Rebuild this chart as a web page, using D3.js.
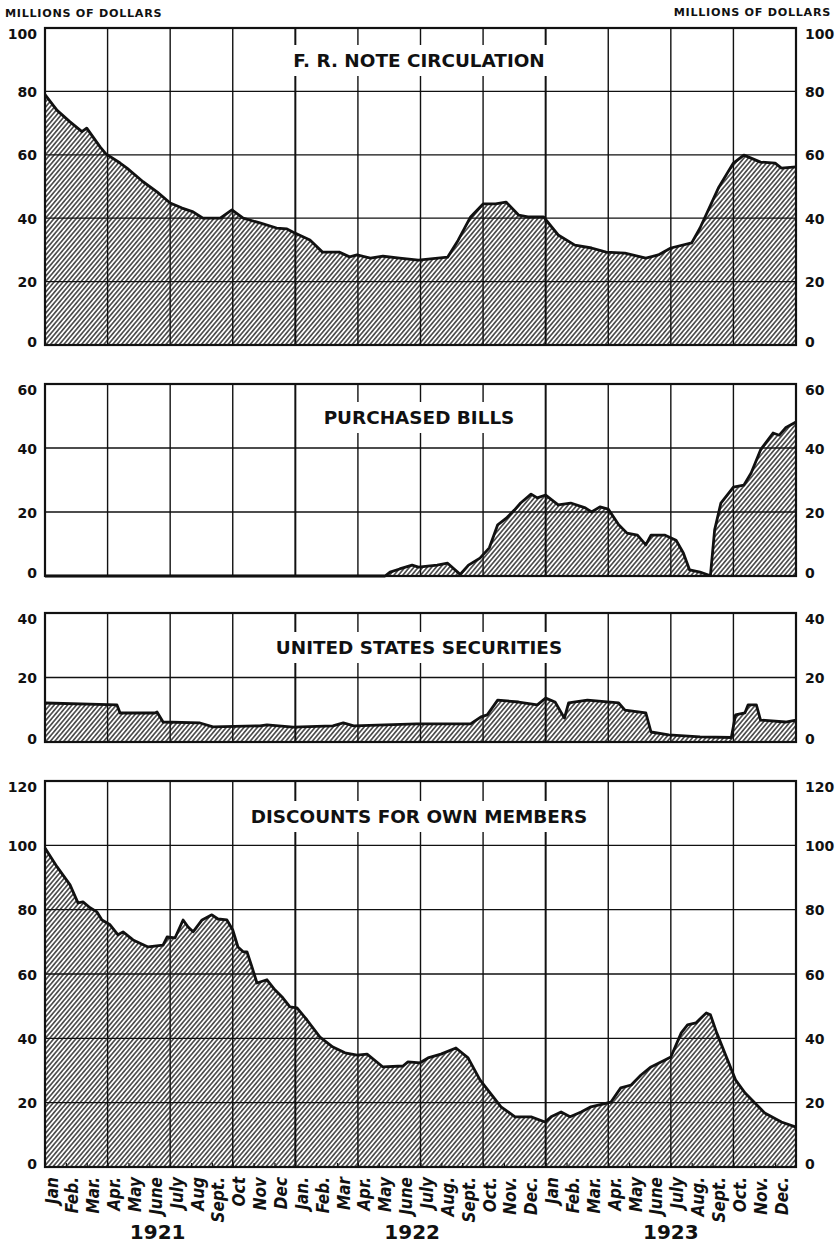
<!DOCTYPE html>
<meta charset="utf-8">
<head>
<style>
  body { margin: 0; background: #fff; }
  text { font-family: "DejaVu Sans", sans-serif; fill: #111; }
  .tick-label { font-size: 14px; font-weight: bold; }
  .title { font-size: 18.4px; font-weight: bold; }
  .unit { font-size: 11.2px; font-weight: bold; letter-spacing: 0.7px; }
  .month { font-family: "DejaVu Sans Condensed", "DejaVu Sans", sans-serif; font-size: 17px; font-style: italic; font-weight: bold; }
  .year { font-size: 20px; font-weight: bold; }
</style>
</head>
<body>
<script src="https://cdnjs.cloudflare.com/ajax/libs/d3/7.8.5/d3.min.js"></script>
<script>

// months counted from Jan 1921 (0) to end of Dec 1923 (36), values in millions of dollars
const noteCirculation = [
  [0,79],[0.58,74],[1.2,70.4],[1.77,67.3],[2.0,68.4],[2.64,62.5],[2.92,60.3],[3.6,57.4],[3.93,55.8],
  [4.7,51.5],[5.37,48.3],[6.0,44.8],[6.57,43.2],[7.1,42],[7.57,40],[8.4,40],[8.96,42.6],[9.5,40],
  [10.3,38.5],[11.1,36.9],[11.6,36.6],[11.9,35.6],[12.7,33.1],[13.3,29.3],[14.1,29.3],[14.6,27.8],
  [14.96,28.4],[15.6,27.4],[16.2,28],[17.0,27.4],[17.9,26.8],[19.3,27.7],[19.8,33],[20.4,40.4],
  [21.0,44.5],[21.6,44.5],[22.1,45.1],[22.7,41],[23.15,40.4],[23.9,40.4],[24.6,34.7],[25.4,31.5],
  [26.2,30.6],[26.9,29.3],[27.8,29],[28.8,27.4],[29.4,28.4],[30.0,30.6],[31.0,32.2],[31.4,36.9],
  [32.3,49.8],[33.0,57.4],[33.5,59.9],[34.3,57.7],[35.0,57.4],[35.3,55.8],[36,56.2]
];

const purchasedBills = [
  [0,0],[16.3,0],[16.54,1.2],[17.0,2.2],[17.6,3.4],[17.9,2.8],[18.8,3.4],[19.3,4],[19.9,0.5],
  [20.3,3.4],[20.85,5.6],[21.3,8.8],[21.7,16],[22.1,18],[22.5,20.6],[22.8,22.8],[23.3,25.6],
  [23.6,24.4],[24.0,25.3],[24.6,22.2],[25.2,22.8],[25.9,21.3],[26.2,20],[26.6,21.6],[27.0,20.9],
  [27.5,16],[27.9,13.4],[28.4,12.8],[28.8,9.7],[29.05,12.8],[29.7,12.8],[30.25,11.2],[30.6,7.2],
  [30.9,1.9],[31.4,1.2],[31.8,0.3],[31.9,0.3],[32.1,14.4],[32.4,22.8],[33.0,27.8],[33.5,28.4],
  [33.85,32.2],[34.3,39.4],[34.9,44.7],[35.2,44],[35.5,46.3],[36,48.1]
];

const usSecurities = [
  [0,12.1],[3.45,11.5],[3.6,9],[5.27,9],[5.37,9.3],[5.66,6.2],[7.43,5.9],[8.05,4.7],[10.3,5],
  [10.64,5.3],[11.9,4.6],[13.8,5],[14.3,5.9],[14.8,5],[17.8,5.6],[20.4,5.6],[20.9,7.8],[21.2,8.4],
  [21.7,13],[22.7,12.4],[23.6,11.5],[24.0,13.6],[24.45,12.4],[24.9,7.4],[25.1,12.1],[26.0,13],
  [27.5,12.1],[27.8,9.9],[28.8,9],[29.05,3.1],[29.9,2.2],[31.4,1.6],[32.9,1.4],[33.1,8.4],
  [33.55,9],[33.7,11.5],[34.1,11.5],[34.3,6.8],[35.5,6.2],[36,6.8]
];

const discounts = [
  [0,99.2],[0.58,93.3],[1.2,87.7],[1.58,82.1],[1.82,82.4],[2.16,80.6],[2.49,79.3],[2.73,76.8],
  [3.12,75.3],[3.5,72.2],[3.74,73.1],[4.22,70.6],[4.94,68.4],[5.66,69],[5.85,71.5],[6.23,71.2],
  [6.62,76.8],[6.86,74.6],[7.1,73.1],[7.53,76.8],[8.0,78.4],[8.29,77.1],[8.72,76.8],[9.0,73.7],
  [9.25,68.4],[9.5,66.9],[9.68,66.9],[9.92,62.2],[10.16,57.2],[10.64,58.2],[11.03,55],[11.4,52.6],
  [11.74,49.8],[12.08,49.5],[12.56,45.7],[13.18,40.4],[13.8,37.3],[14.38,35.5],[14.96,34.8],
  [15.44,35.1],[16.2,31.1],[17.16,31.4],[17.4,32.7],[17.98,32.4],[18.36,33.9],[18.98,35.1],
  [19.7,37],[20.28,33.9],[20.85,27.1],[21.86,18.7],[22.53,15.6],[23.3,15.6],[23.97,14],
  [24.26,15.6],[24.74,17.1],[25.17,15.6],[25.7,17.1],[26.17,18.7],[27.13,20.2],[27.6,24.6],
  [28.1,25.5],[28.57,28.6],[29.05,31.1],[29.72,33.3],[30.0,34.2],[30.5,41.7],[30.8,44.2],
  [31.2,44.8],[31.7,47.9],[31.9,47.3],[32.2,41.7],[33.1,27.1],[33.56,23],[34.5,16.8],[35.3,14],
  [36,12.4]
];

const seriesTitles = ["F. R. NOTE CIRCULATION", "PURCHASED BILLS", "UNITED STATES SECURITIES", "DISCOUNTS FOR OWN MEMBERS"];
const seriesMax = [100, 60, 40, 120];

const monthLabels = [
  "Jan","Feb.","Mar.","Apr.","May","June","July","Aug","Sept.","Oct","Nov","Dec",
  "Jan.","Feb.","Mar","Apr.","May","June","July","Aug.","Sept.","Oct.","Nov.","Dec.",
  "Jan","Feb.","Mar.","Apr.","May","June","July","Aug.","Sept.","Oct.","Nov.","Dec."
];
const yearLabels = ["1921", "1922", "1923"];
const unitLabel = "MILLIONS OF DOLLARS";

// layout
const W = 838, H = 1245;
const left = 45, right = 796;
const panels = [
  {top: 28,  bottom: 345,  titleY: 60},
  {top: 384, bottom: 576,  titleY: 417},
  {top: 613, bottom: 742,  titleY: 647},
  {top: 781, bottom: 1167, titleY: 816}
];
const yearPos = [5.4, 17.6, 30];
const allSeries = [noteCirculation, purchasedBills, usSecurities, discounts];

const x = d3.scaleLinear().domain([0, 36]).range([left, right]);

const svg = d3.select("body").append("svg")
  .attr("width", W)
  .attr("height", H);

svg.append("rect").attr("width", W).attr("height", H).attr("fill", "#fff");

const defs = svg.append("defs");
defs.append("pattern")
    .attr("id", "hatch")
    .attr("patternUnits", "userSpaceOnUse")
    .attr("width", 3.4)
    .attr("height", 10)
    .attr("patternTransform", "rotate(40)")
  .append("line")
    .attr("x1", 1.7).attr("x2", 1.7)
    .attr("y1", 0).attr("y2", 10)
    .attr("stroke", "#111")
    .attr("stroke-width", 1.25);

// unit labels
svg.append("text").attr("class", "unit")
  .attr("x", 5).attr("y", 17).text(unitLabel);
svg.append("text").attr("class", "unit")
  .attr("x", 831).attr("y", 16)
  .style("text-anchor", "end").text(unitLabel);

panels.forEach((p, i) => {
  const data = allSeries[i];
  const max = seriesMax[i];
  const y = d3.scaleLinear().domain([0, max]).range([p.bottom, p.top]);
  const g = svg.append("g");

  const area = d3.area()
    .x(d => x(d[0]))
    .y0(y(0))
    .y1(d => y(d[1]));

  const line = d3.line()
    .x(d => x(d[0]))
    .y(d => y(d[1]));

  g.append("path")
    .datum(data)
    .attr("d", area)
    .attr("fill", "url(#hatch)");

  // horizontal grid
  const yTicks = d3.range(20, max, 20);
  g.selectAll(".hgrid")
    .data(yTicks)
    .join("line")
      .attr("x1", left).attr("x2", right)
      .attr("y1", d => y(d)).attr("y2", d => y(d))
      .attr("stroke", "#111")
      .attr("stroke-width", 1.3);

  // vertical grid every quarter, year lines heavier
  g.selectAll(".vgrid")
    .data(d3.range(3, 36, 3))
    .join("line")
      .attr("x1", d => x(d)).attr("x2", d => x(d))
      .attr("y1", p.top).attr("y2", p.bottom)
      .attr("stroke", "#111")
      .attr("stroke-width", d => d % 12 === 0 ? 2 : 1.4);

  // title with white box
  const t = g.append("text")
    .attr("class", "title")
    .attr("x", 419)
    .attr("y", p.titleY + 7)
    .style("text-anchor", "middle")
    .text(seriesTitles[i]);
  const bb = t.node().getBBox();
  g.insert("rect", "text.title")
    .attr("x", bb.x - 6).attr("width", bb.width + 12)
    .attr("y", p.titleY - 15).attr("height", 31)
    .attr("fill", "#fff");

  g.append("path")
    .datum(data)
    .attr("d", line)
    .attr("fill", "none")
    .attr("stroke", "#111")
    .attr("stroke-width", 2.8)
    .attr("stroke-linejoin", "round");

  g.append("rect")
    .attr("x", left).attr("y", p.top)
    .attr("width", right - left).attr("height", p.bottom - p.top)
    .attr("fill", "none")
    .attr("stroke", "#111")
    .attr("stroke-width", 2.2);

  // y axes, both sides
  const tickVals = d3.range(0, max + 1, 20);
  const shift = d => d === max ? 5 : (d === 0 ? -4 : 0);

  const yl = g.append("g")
    .attr("transform", `translate(${left},0)`)
    .call(d3.axisLeft(y).tickValues(tickVals).tickSize(0).tickPadding(8));
  const yr = g.append("g")
    .attr("transform", `translate(${right},0)`)
    .call(d3.axisRight(y).tickValues(tickVals).tickSize(0).tickPadding(9));
  [yl, yr].forEach(ax => {
    ax.attr("font-family", null).attr("font-size", null);
    ax.select(".domain").remove();
    ax.selectAll("text")
      .attr("class", "tick-label")
      .attr("fill", "#111")
      .attr("dy", d => (0.36 * 14 + shift(d)) + "px");
  });

  if (i === 3) {
    // small month ticks along the bottom edge
    g.append("g")
      .attr("transform", `translate(0,${p.bottom})`)
      .call(d3.axisBottom(x).tickValues(d3.range(1, 36)).tickSize(-4).tickFormat(""))
      .call(ax => ax.select(".domain").remove())
      .selectAll("line").attr("stroke", "#111").attr("stroke-width", 1.2);

    const mx = g.append("g")
      .attr("transform", `translate(0,${p.bottom})`)
      .call(d3.axisBottom(x).tickValues(d3.range(0, 36)).tickSize(0)
        .tickFormat(d => monthLabels[d]))
      .attr("font-family", null).attr("font-size", null);
    mx.select(".domain").remove();
    mx.selectAll("text")
      .attr("class", "month")
      .attr("fill", "#111")
      .attr("transform", "rotate(-90)")
      .attr("x", -10)
      .attr("y", 12)
      .attr("dy", 0)
      .style("text-anchor", "end");

    svg.selectAll(".year")
      .data(yearLabels)
      .join("text")
        .attr("class", "year")
        .attr("x", (d, k) => x(yearPos[k]))
        .attr("y", 1239)
        .style("text-anchor", "middle")
        .text(d => d);
  }
});

</script>
</body>
